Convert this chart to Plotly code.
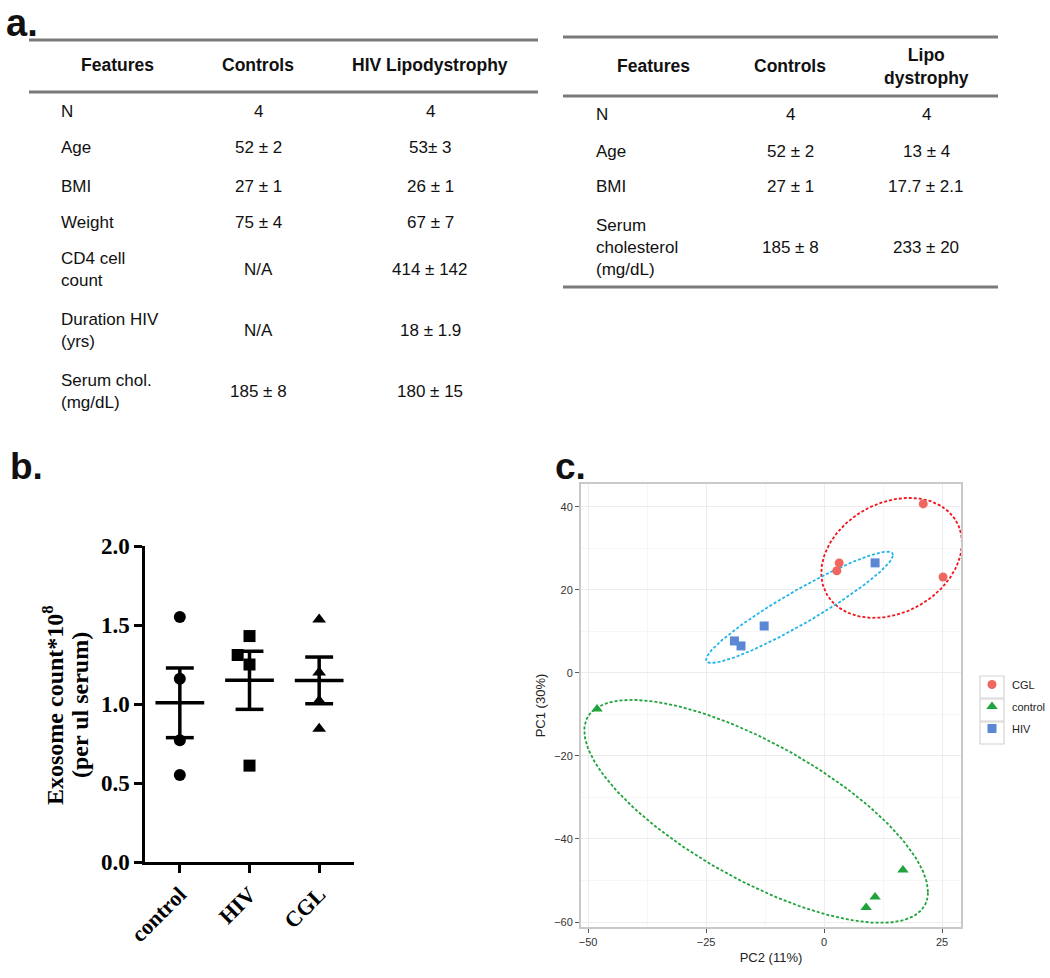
import numpy as np
import plotly.graph_objects as go

W, H = 1050, 978

# ── panel a: patient tables ─────────────────────────────────────────────
left_header = ["Features", "Controls", "HIV Lipodystrophy"]
left_features = ["N", "Age", "BMI", "Weight", "CD4 cell<br>count",
                 "Duration HIV<br>(yrs)", "Serum chol.<br>(mg/dL)"]
left_controls = ["4", "52 ± 2", "27 ± 1", "75 ± 4", "N/A", "N/A", "185 ± 8"]
left_hiv = ["4", "53± 3", "26 ± 1", "67 ± 7", "414 ± 142", "18 ± 1.9", "180 ± 15"]

right_header = ["Features", "Controls", "Lipo<br>dystrophy"]
right_features = ["N", "Age", "BMI", "Serum<br>cholesterol<br>(mg/dL)"]
right_controls = ["4", "52 ± 2", "27 ± 1", "185 ± 8"]
right_lipo = ["4", "13 ± 4", "17.7 ± 2.1", "233 ± 20"]

# ── panel b: exosome counts (x10^8 per ul serum) ────────────────────────
groups_b = ["control", "HIV", "CGL"]
control_counts = [1.55, 1.16, 0.77, 0.55]
hiv_counts = [1.43, 1.31, 1.25, 0.61]
cgl_counts = [1.535, 1.20, 1.02, 0.843]
hiv_spread = [0.0, -0.17, 0.0, 0.0]   # sideways spreading of overlapping dots

# ── panel c: PCA ────────────────────────────────────────────────────────
pca_groups = ["CGL", "control", "HIV"]
cgl_pc2 = [21.0, 3.2, 2.7, 25.2]
cgl_pc1 = [40.7, 26.5, 24.6, 23.1]
control_pc2 = [-48.1, 16.7, 10.8, 8.9]
control_pc1 = [-8.7, -47.5, -54.0, -56.5]
hiv_pc2 = [10.8, -12.7, -19.0, -17.6]
hiv_pc1 = [26.5, 11.3, 7.7, 6.5]
# confidence ellipses (CGL, control, HIV): centre, half width/height, tilt
ell_cx = [14.3, -14.4, -5.2]
ell_cy = [27.7, -33.35, 15.8]
ell_w = [14.9, 36.4, 19.8]
ell_h = [14.45, 26.85, 13.4]
ell_tilt = [0.25, -0.724, 0.94]


def px(x):
    return x / W


def py(y):
    return 1 - y / H


fig = go.Figure()

# ══════════════════════════════════════════════════════════════════════
#  b.  dot plot with mean ± SEM
# ══════════════════════════════════════════════════════════════════════
b_values = [control_counts, hiv_counts, cgl_counts]
b_spread = [[0.0] * 4, hiv_spread, [0.0] * 4]
b_symbols = ["circle", "square", "triangle-up"]
b_sizes = [12, 12, 12]
for i, vals in enumerate(b_values):
    fig.add_trace(go.Scatter(
        x=[i + s for s in b_spread[i]], y=vals, mode="markers",
        marker=dict(symbol=b_symbols[i], size=b_sizes[i], color="black"),
        xaxis="x", yaxis="y", showlegend=False, hoverinfo="skip"))

for i, vals in enumerate(b_values):
    v = np.array(vals)
    m = v.mean()
    sem = v.std(ddof=1) / np.sqrt(len(v))
    xs = [i - 0.35, i + 0.35, None, i, i, None,
          i - 0.2, i + 0.2, None, i - 0.2, i + 0.2]
    ys = [m, m, None, m - sem, m + sem, None,
          m - sem, m - sem, None, m + sem, m + sem]
    fig.add_trace(go.Scatter(
        x=xs, y=ys, mode="lines", line=dict(color="black", width=3.5),
        xaxis="x", yaxis="y", showlegend=False, hoverinfo="skip"))

serif = "Liberation Serif, Times New Roman, serif"
fig.update_layout(
    xaxis=dict(domain=[px(145), px(354)], range=[-0.5, 2.5],
               tickvals=[0, 1, 2], ticktext=groups_b, tickangle=-45,
               showline=True, linecolor="black", linewidth=2.5,
               ticks="outside", ticklen=8, tickwidth=2.5, tickcolor="black",
               showgrid=False, zeroline=False, automargin=False,
               tickfont=dict(family=serif, size=22, color="black", weight="bold"),
               anchor="y"),
    yaxis=dict(domain=[py(862), py(546)], range=[0, 2.0],
               tickvals=[0, 0.5, 1.0, 1.5, 2.0], tickformat=".1f",
               showline=True, linecolor="black", linewidth=2.5,
               ticks="outside", ticklen=8, tickwidth=2.5, tickcolor="black",
               showgrid=False, zeroline=False, automargin=False,
               tickfont=dict(family=serif, size=23, color="black", weight="bold"),
               anchor="x"),
)

# ══════════════════════════════════════════════════════════════════════
#  c.  PCA scatter + ellipses
# ══════════════════════════════════════════════════════════════════════
pc2_all = [cgl_pc2, control_pc2, hiv_pc2]
pc1_all = [cgl_pc1, control_pc1, hiv_pc1]
point_colors = ["#F0675F", "#1FA33A", "#5B87D4"]
ell_colors = ["#F2141C", "#1FA33A", "#22B5EA"]
c_symbols = ["circle", "triangle-up", "square"]
c_sizes = [9, 10, 9]

t = np.linspace(0, 2 * np.pi, 240)
for k in range(3):
    phi = np.arccos(ell_tilt[k])
    ex = ell_cx[k] + ell_w[k] * np.cos(t)
    ey = ell_cy[k] + ell_h[k] * np.cos(t - phi)
    fig.add_trace(go.Scatter(
        x=ex, y=ey, mode="lines",
        line=dict(color=ell_colors[k], width=1.8, dash="3px,2px"),
        xaxis="x2", yaxis="y2", showlegend=False, hoverinfo="skip"))

for k in range(3):
    fig.add_trace(go.Scatter(
        x=pc2_all[k], y=pc1_all[k], mode="markers", name=pca_groups[k],
        legendgroup=pca_groups[k],
        marker=dict(symbol=c_symbols[k], size=c_sizes[k], color=point_colors[k]),
        xaxis="x2", yaxis="y2"))

sans = "Liberation Sans, Arial, sans-serif"
fig.update_layout(
    xaxis2=dict(domain=[px(581), px(961)], range=[-51.5, 29.0],
                tickvals=[-50, -25, 0, 25], anchor="y2",
                showline=True, mirror=True, linecolor="#c9c9c9", linewidth=2,
                ticks="outside", ticklen=4, tickcolor="#555",
                showgrid=True, gridcolor="#ececec", gridwidth=1,
                minor=dict(dtick=12.5, tick0=-50, showgrid=True,
                           gridcolor="#f6f6f6", ticks=""),
                zeroline=False, automargin=False,
                tickfont=dict(family=sans, size=11, color="#333"),
                title=dict(text="PC2 (11%)", standoff=6,
                           font=dict(family=sans, size=13, color="#222"))),
    yaxis2=dict(domain=[py(927), py(484)], range=[-61.2, 45.5],
                tickvals=[-60, -40, -20, 0, 20, 40], anchor="x2",
                showline=True, mirror=True, linecolor="#c9c9c9", linewidth=2,
                ticks="outside", ticklen=4, tickcolor="#555",
                showgrid=True, gridcolor="#ececec", gridwidth=1,
                minor=dict(dtick=10, tick0=0, showgrid=True,
                           gridcolor="#f6f6f6", ticks=""),
                zeroline=False, automargin=False,
                tickfont=dict(family=sans, size=11, color="#333"),
                title=dict(text="PC1 (30%)", standoff=6,
                           font=dict(family=sans, size=13, color="#222"))),
    legend=dict(x=px(972), y=py(670), xanchor="left", yanchor="top",
                font=dict(family=sans, size=11, color="#222"),
                bgcolor="rgba(0,0,0,0)", itemwidth=30, tracegroupgap=3),
)

# ══════════════════════════════════════════════════════════════════════
#  a.  tables (text + rules)
# ══════════════════════════════════════════════════════════════════════
annotations = []
shapes = []


def txt(x, y, text, size=17, bold=False, align="center", family=sans,
        angle=0, color="#111", valign="middle"):
    annotations.append(dict(
        x=px(x), y=py(y), xref="paper", yref="paper", text=text,
        showarrow=False, xanchor=align, yanchor=valign, align=align,
        textangle=angle,
        font=dict(family=family, size=size, color=color,
                  weight="bold" if bold else "normal")))


def rule(x0, x1, y):
    shapes.append(dict(type="line", xref="paper", yref="paper",
                       x0=px(x0), x1=px(x1), y0=py(y), y1=py(y),
                       line=dict(color="#7a7a7a", width=3)))


# left table
rule(29, 538, 40)
rule(29, 538, 92)
for x, h in zip([117, 258, 430], left_header):
    txt(x, 65, h, size=17.5, bold=True)
left_rows_y = [111, 148, 186, 223, 270, 330, 391]
for y, f, c, v in zip(left_rows_y, left_features, left_controls, left_hiv):
    txt(59, y, f, align="left")
    txt(258, y, c)
    txt(430, y, v)

# right table
rule(563, 998, 37)
rule(563, 998, 96)
rule(563, 998, 287)
for x, h in zip([653, 790, 926], right_header):
    txt(x, 66, h, size=17.5, bold=True)
right_rows_y = [114, 151, 187, 247]
for y, f, c, v in zip(right_rows_y, right_features, right_controls, right_lipo):
    txt(594, y, f, align="left")
    txt(790, y, c)
    txt(926, y, v)

# panel letters
txt(22, 0, "a.", size=38, bold=True, valign="top")
txt(26, 466, "b.", size=37, bold=True)
txt(570, 466, "c.", size=37, bold=True)

# panel b y title (two lines, rotated)
txt(53, 705, "Exosome count*10<sup>8</sup>", size=24, bold=True,
    family=serif, angle=-90, color="black")
txt(80, 705, "(per ul serum)", size=24, bold=True,
    family=serif, angle=-90, color="black")

# boxes round the legend keys
for y0, y1 in [(676, 698), (699, 721), (722, 744)]:
    shapes.append(dict(type="rect", xref="paper", yref="paper",
                       x0=px(980), x1=px(1004), y0=py(y1), y1=py(y0),
                       line=dict(color="#d4d4d4", width=1.2)))

fig.update_layout(
    width=W, height=H, margin=dict(l=0, r=0, t=0, b=0, autoexpand=False),
    paper_bgcolor="white", plot_bgcolor="white",
    annotations=annotations, shapes=shapes,
)

fig.write_html("out.html", config={"displayModeBar": False},
               post_script="document.body.style.margin='0';")
